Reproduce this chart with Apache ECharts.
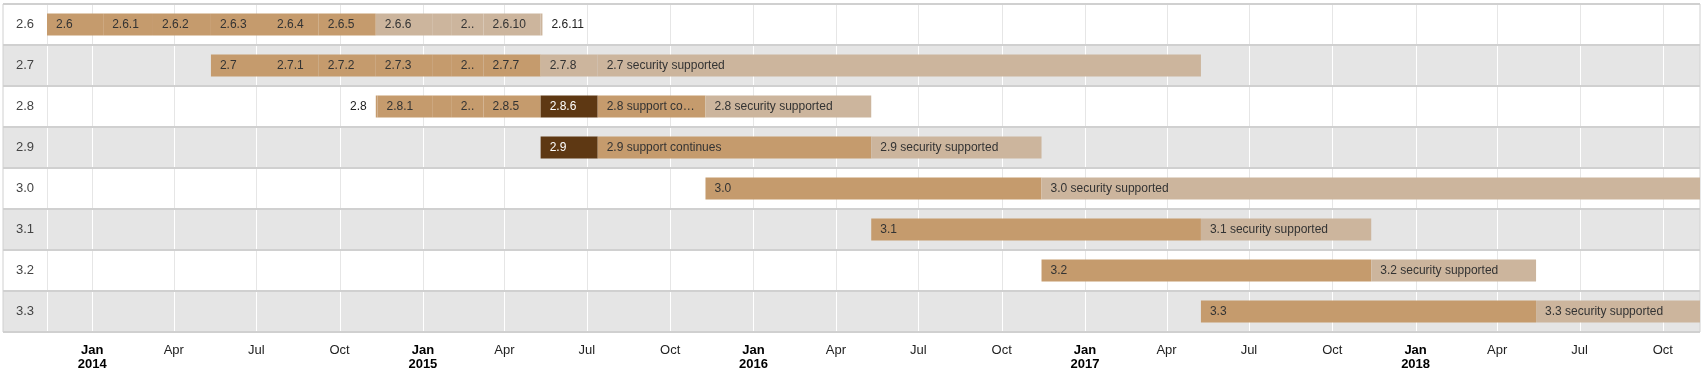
<!DOCTYPE html>
<html><head><meta charset="utf-8">
<script src="https://cdn.jsdelivr.net/npm/echarts@6/dist/echarts.min.js"></script>
<style>html,body{margin:0;padding:0;background:#fff}#chart{width:1706px;height:382px}</style>
</head><body><div id="chart"></div>
<script>
// ---------------- data ----------------
const rowLabels = ['2.6', '2.7', '2.8', '2.9', '3.0', '3.1', '3.2', '3.3'];

const taskRow = [
  0,0,0,0,0,0,0,0,0,0,0,
  1,1,1,1,1,1,1,1,1,
  2,2,2,2,2,2,2,2,
  3,3,3,
  4,4,
  5,5,
  6,6,
  7,7
];
const taskLabel = [
  '2.6','2.6.1','2.6.2','2.6.3','2.6.4','2.6.5','2.6.6','2.6.7','2.6.8','2.6.10','2.6.11',
  '2.7','2.7.1','2.7.2','2.7.3','2.7.4','2.7.5','2.7.7','2.7.8','2.7 security supported',
  '2.8','2.8.1','2.8.2','2.8.3','2.8.5','2.8.6','2.8 support continues','2.8 security supported',
  '2.9','2.9 support continues','2.9 security supported',
  '3.0','3.0 security supported',
  '3.1','3.1 security supported',
  '3.2','3.2 security supported',
  '3.3','3.3 security supported'
];
const taskStart = [
  '2013-11-12','2014-01-13','2014-03-09','2014-05-12','2014-07-14','2014-09-08','2014-11-10','2015-01-12','2015-02-02','2015-03-09','2015-05-11',
  '2014-05-12','2014-07-14','2014-09-08','2014-11-10','2015-01-12','2015-02-02','2015-03-09','2015-05-11','2015-07-13',
  '2014-11-10','2014-11-12','2015-01-12','2015-02-02','2015-03-09','2015-05-11','2015-07-13','2015-11-09',
  '2015-05-11','2015-07-13','2016-05-10',
  '2015-11-09','2016-11-14',
  '2016-05-10','2017-05-09',
  '2016-11-14','2017-11-13',
  '2017-05-09','2018-05-14'
];
const taskEnd = [
  '2014-01-13','2014-03-09','2014-05-12','2014-07-14','2014-09-08','2014-11-10','2015-01-12','2015-02-02','2015-03-09','2015-05-11','2015-05-13',
  '2014-07-14','2014-09-08','2014-11-10','2015-01-12','2015-02-02','2015-03-09','2015-05-11','2015-07-13','2017-05-09',
  '2014-11-12','2015-01-12','2015-02-02','2015-03-09','2015-05-11','2015-07-13','2015-11-09','2016-05-10',
  '2015-07-13','2016-05-10','2016-11-14',
  '2016-11-14','2018-11-11',
  '2017-05-09','2017-11-13',
  '2017-11-13','2018-05-14',
  '2018-05-14','2018-11-11'
];
// 'supported' | 'security' | 'current'
const taskStatus = [
  'supported','supported','supported','supported','supported','supported','security','security','security','security','security',
  'supported','supported','supported','supported','supported','supported','supported','security','security',
  'supported','supported','supported','supported','supported','current','supported','security',
  'current','supported','security',
  'supported','security',
  'supported','security',
  'supported','security',
  'supported','security'
];
const axisStart = '2013-11-12';
const axisEnd = '2018-11-11';
const tickMonthLabels = ['Jan', 'Apr', 'Jul', 'Oct'];

// ---------------- helpers ----------------
const FONT_FAMILY = '"Liberation Sans", Arial, Helvetica, sans-serif';
const toTs = s => Date.UTC(+s.slice(0, 4), +s.slice(5, 7) - 1, +s.slice(8, 10));
const minTs = toTs(axisStart), maxTs = toTs(axisEnd);

const quarterTicks = [];
for (let y = new Date(minTs).getUTCFullYear(); y <= new Date(maxTs).getUTCFullYear(); y++) {
  for (let m = 0; m < 12; m += 3) {
    const v = Date.UTC(y, m, 1);
    if (v >= minTs && v <= maxTs) quarterTicks.push(v);
  }
}

const statusColor = { supported: '#c59b6d', security: '#ccb59d', current: '#5e3813' };
const statusText = { supported: '#333333', security: '#333333', current: '#ffffff' };

const mctx = document.createElement('canvas').getContext('2d');
mctx.font = '12px ' + FONT_FAMILY;
const mw = s => mctx.measureText(s).width;
function fitText(text, avail) {
  if (mw(text) <= avail) return text;
  for (const ell of ['\u2026', '..']) {
    for (let n = text.length - 1; n >= 1; n--) {
      const s = text.slice(0, n).replace(/\s+$/, '') + ell;
      if (mw(s) <= avail) return s;
    }
  }
  return '';
}

const PAD = 9, BAR_H = 22, LABEL_COL = 44;

const chart = echarts.init(document.getElementById('chart'), null, { renderer: 'canvas' });

chart.setOption({
  animation: false,
  backgroundColor: '#ffffff',
  grid: { left: 47, right: 6, top: 4, bottom: 50 },
  xAxis: {
    type: 'value',
    min: minTs,
    max: maxTs,
    z: 10,
    axisLine: { show: false },
    axisTick: { show: false },
    splitLine: { show: false },
    axisLabel: {
      customValues: quarterTicks,
      margin: 11,
      hideOverlap: false,
      showMinLabel: true,
      showMaxLabel: true,
      formatter: function (v) {
        const d = new Date(v);
        const m = d.getUTCMonth();
        if (m === 0) return '{b|Jan}\n{b|' + d.getUTCFullYear() + '}';
        return '{n|' + tickMonthLabels[m / 3] + '}';
      },
      rich: {
        b: { fontWeight: 'bold', color: '#000', fontSize: 13, lineHeight: 14, fontFamily: FONT_FAMILY },
        n: { color: '#222', fontSize: 13, lineHeight: 14, fontFamily: FONT_FAMILY }
      }
    }
  },
  yAxis: {
    type: 'category',
    data: rowLabels,
    inverse: true,
    z: 10,
    axisLine: { show: false },
    axisTick: { show: false },
    splitLine: { show: false },
    axisLabel: { align: 'left', margin: 31, color: '#444', fontSize: 13, fontFamily: FONT_FAMILY }
  },
  series: [
    {
      type: 'custom',
      silent: true,
      clip: false,
      z: 1,
      data: rowLabels.map((_, i) => [minTs, i]),
      encode: { x: 0, y: 1 },
      renderItem: function (params, api) {
        const cs = params.coordSys;
        const i = api.value(1);
        const c = api.coord([minTs, i]);
        const h = api.size([0, 1])[1];
        const top = c[1] - h / 2;
        const left = cs.x - LABEL_COL;
        const right = cs.x + cs.width;
        const gray = i % 2 === 1;
        const children = [{
          type: 'rect',
          shape: { x: left, y: top, width: right - left, height: h },
          style: { fill: gray ? '#e5e5e5' : '#ffffff' }
        }];
        const gx = [cs.x].concat(quarterTicks.map(v => api.coord([v, i])[0]));
        gx.forEach(x => {
          const xx = Math.round(x) + 0.5;
          children.push({
            type: 'line',
            shape: { x1: xx, y1: top, x2: xx, y2: top + h },
            style: { stroke: gray ? '#ffffff' : '#e6e6e6', lineWidth: 1 }
          });
        });
        const yt = Math.round(top);
        children.push({ type: 'line', shape: { x1: left, y1: yt, x2: right, y2: yt }, style: { stroke: '#d0d0d0', lineWidth: 2 } });
        if (i === rowLabels.length - 1) {
          const yb = Math.round(top + h);
          children.push({ type: 'line', shape: { x1: left, y1: yb, x2: right, y2: yb }, style: { stroke: '#d0d0d0', lineWidth: 2 } });
        }
        children.push({ type: 'line', shape: { x1: left, y1: top, x2: left, y2: top + h }, style: { stroke: '#d0d0d0', lineWidth: 1 } });
        children.push({ type: 'line', shape: { x1: right, y1: top, x2: right, y2: top + h }, style: { stroke: '#d0d0d0', lineWidth: 1 } });
        return { type: 'group', children: children };
      }
    },
    {
      type: 'custom',
      silent: true,
      clip: false,
      z: 2,
      data: taskLabel.map((_, k) => [taskRow[k], toTs(taskStart[k]), toTs(taskEnd[k]), k]),
      encode: { x: [1, 2], y: 0 },
      renderItem: function (params, api) {
        const cs = params.coordSys;
        const r = api.value(0);
        const k = api.value(3);
        const p0 = api.coord([api.value(1), r]);
        const p1 = api.coord([api.value(2), r]);
        const x0 = p0[0], x1 = p1[0], cy = p0[1];
        const w = Math.max(x1 - x0, 1);
        const status = taskStatus[k];
        const children = [{
          type: 'rect',
          shape: { x: x0, y: cy - BAR_H / 2, width: w, height: BAR_H },
          style: { fill: statusColor[status] }
        }];
        const label = taskLabel[k];
        const tw = mw(label);
        const avail = w - 2 * PAD;
        let txt = '', tx = 0, align = 'left', fill = statusText[status];
        if (tw <= avail) {
          txt = label; tx = x0 + PAD;
        } else {
          let leftFree = x0 - 2 * PAD - tw >= cs.x;
          let rightFree = x1 + 2 * PAD + tw <= cs.x + cs.width;
          for (let j = 0; j < taskLabel.length; j++) {
            if (j === k || taskRow[j] !== taskRow[k]) continue;
            const a = api.coord([toTs(taskStart[j]), r])[0];
            const b = api.coord([toTs(taskEnd[j]), r])[0];
            if (a < x0 - 0.01 && b > x0 - 2 * PAD - tw) leftFree = false;
            if (b > x1 + 0.01 && a < x1 + 2 * PAD + tw) rightFree = false;
          }
          if (rightFree) {
            txt = label; tx = x1 + PAD; align = 'left'; fill = '#222';
          } else if (leftFree) {
            txt = label; tx = x0 - PAD; align = 'right'; fill = '#222';
          } else {
            txt = fitText(label, avail); tx = x0 + PAD;
          }
        }
        if (txt) {
          children.push({
            type: 'text',
            style: {
              text: txt, x: tx, y: cy,
              fill: fill,
              font: '12px ' + FONT_FAMILY,
              align: align, verticalAlign: 'middle',
              textAlign: align, textVerticalAlign: 'middle'
            }
          });
        }
        return { type: 'group', children: children };
      }
    }
  ]
});
</script>
</body></html>
